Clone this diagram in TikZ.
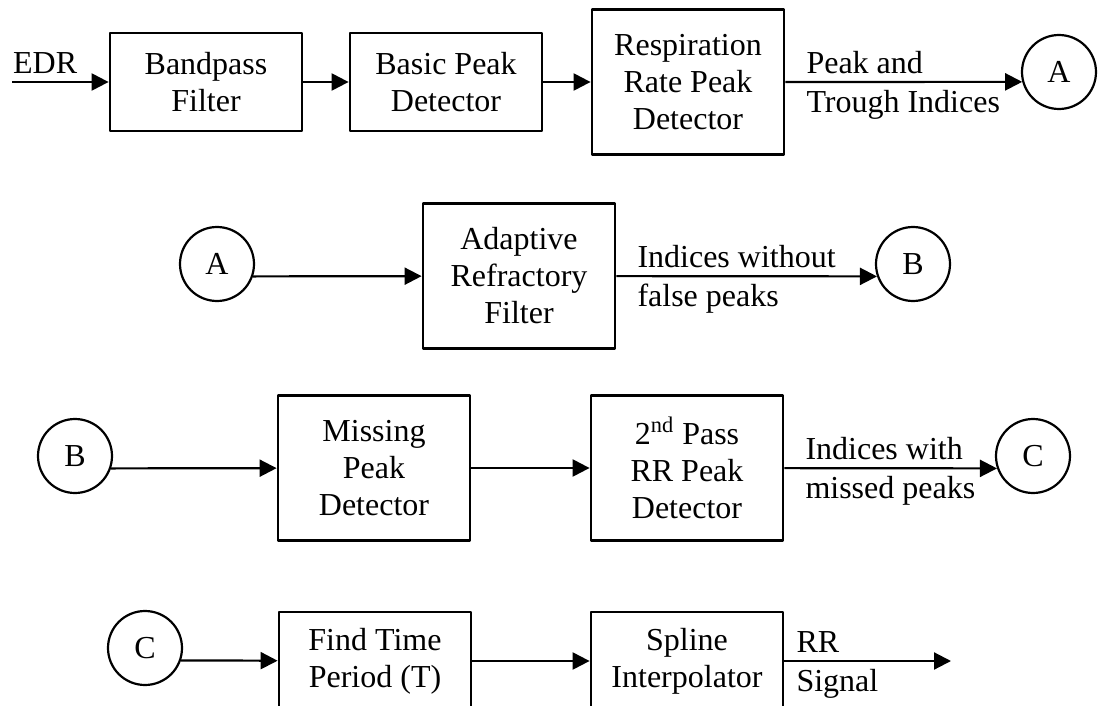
\documentclass[tikz,border=0pt]{standalone}
\usepackage{fontspec}
\setmainfont{Liberation Serif}
\usetikzlibrary{arrows.meta}
\begin{document}
\begin{tikzpicture}[x=0.5pt,y=-0.5pt,line join=round,>={Triangle[length=8.5pt,width=8.5pt]},
	every node/.style={font=\fontsize{16}{18.5}\selectfont},
	blk/.style={draw,line width=1.4pt,minimum width=96pt,align=center,inner sep=0pt},
	blk2/.style={blk,minimum height=49pt},
	blk3/.style={blk,minimum height=72.5pt},
	con/.style={draw,circle,line width=1.1pt,minimum size=37pt,inner sep=0pt},
	lbl/.style={inner xsep=4pt,inner ysep=3.5pt,xshift=6pt},
	every path/.style={line width=1.1pt}]
	\useasboundingbox (0,0) rectangle (1098,706);
	% row 1
	\coordinate (in) at (12,82);
	\node[blk2] (bp) at (206,82) {Bandpass\\Filter};
	\node[blk2] (bpd) at (446,82) {Basic Peak\\Detector};
	\node[blk3] (rrpd) at (688,82) {Respiration\\Rate Peak\\Detector};
	\node[con] (A1) at (1059,72) {A};
	\draw[->] (in) -- node[pos=0,above right,inner sep=3.5pt,xshift=-3.5pt]{EDR} (bp);
	\draw[->] (bp) -- (bpd);
	\draw[->] (bpd) -- (rrpd);
	\draw[->] (rrpd) -- node[lbl,pos=0,above right]{Peak and} node[lbl,pos=0,below right]{Trough Indices} (A1.195);
	% row 2
	\node[con] (A2) at (217,264) {A};
	\node[blk3] (arf) at (519,276) {Adaptive\\Refractory\\Filter};
	\node[con] (B2) at (913,264) {B};
	\draw[->] (A2.341) -- (arf);
	\draw[->] (arf) -- node[lbl,pos=0,above right]{Indices without} node[lbl,pos=0,below right]{false peaks} (B2.199);
	% row 3
	\node[con] (B3) at (75,456) {B};
	\node[blk3] (mpd) at (374,468) {Missing\\Peak\\Detector};
	\node[blk3] (spd) at (687,468) {2\textsuperscript{nd} Pass\\RR Peak\\Detector};
	\node[con] (C3) at (1033,456) {C};
	\draw[->] (B3.341) -- (mpd);
	\draw[->] (mpd) -- (spd);
	\draw[->] (spd) -- node[lbl,pos=0,above right]{Indices with} node[lbl,pos=0,below right]{missed peaks} (C3.199);
	% row 4
	\node[con] (C4) at (145,648) {C};
	\node[blk2] (ftp) at (375,661) {Find Time\\Period (T)};
	\node[blk2] (si) at (687,661) {Spline\\Interpolator};
	\coordinate (out) at (951,661);
	\draw[->] (C4.341) -- (ftp);
	\draw[->] (ftp) -- (si);
	\draw[->] (si) -- node[lbl,pos=0,above right,xshift=-4.5pt]{RR} node[lbl,pos=0,below right,xshift=-4.5pt]{Signal} (out);
\end{tikzpicture}
\end{document}
